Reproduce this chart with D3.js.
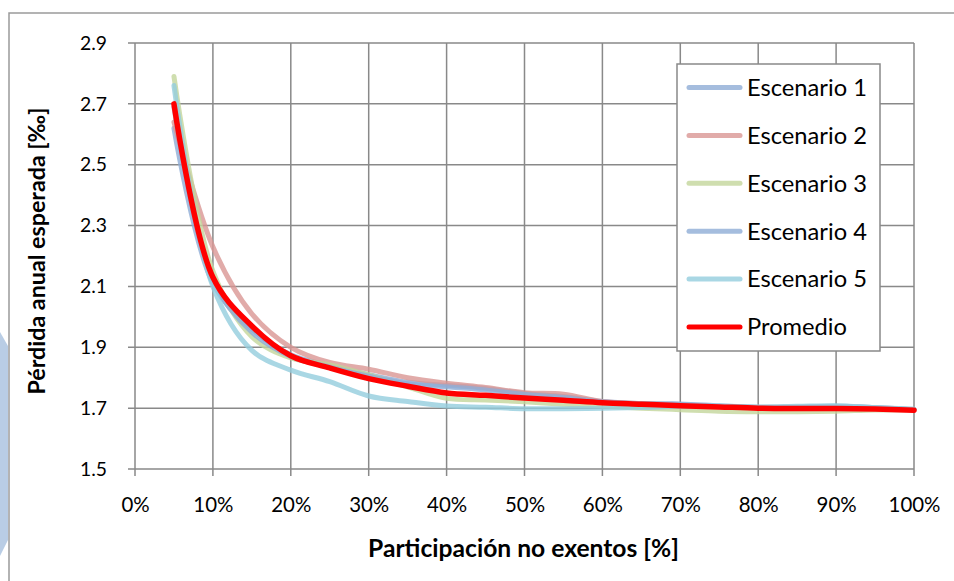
<!DOCTYPE html>
<html>
<head>
<meta charset="utf-8">
<script src="https://cdn.jsdelivr.net/npm/d3@7"></script>
<style>
  html, body { margin: 0; padding: 0; background: #ffffff; }
  svg { display: block; }
  text { font-family: Lato, "Open Sans", "DejaVu Sans", sans-serif; fill: #000; }
</style>
</head>
<body>
<svg id="chart" width="954" height="581"></svg>
<script>
// Participation of non-exempt units (%) on the horizontal axis
const participation = [5, 10, 15, 20, 25, 30, 35, 40, 45, 50, 55, 60, 65, 70, 75, 80, 85, 90, 95, 100];

// Expected annual loss (per mille) for each scenario and their average
const escenario1 = [2.62, 2.11, 1.96, 1.875, 1.84, 1.81, 1.785, 1.775, 1.765, 1.748, 1.738, 1.722, 1.715, 1.712, 1.705, 1.702, 1.703, 1.704, 1.700, 1.695];
const escenario2 = [2.64, 2.23, 2.01, 1.90, 1.85, 1.828, 1.80, 1.782, 1.768, 1.751, 1.746, 1.722, 1.715, 1.710, 1.705, 1.702, 1.700, 1.700, 1.700, 1.695];
const escenario3 = [2.79, 2.15, 1.935, 1.865, 1.842, 1.809, 1.77, 1.732, 1.727, 1.721, 1.713, 1.707, 1.700, 1.695, 1.690, 1.688, 1.688, 1.690, 1.694, 1.695];
const escenario4 = [2.69, 2.12, 1.95, 1.87, 1.835, 1.805, 1.78, 1.77, 1.76, 1.745, 1.735, 1.72, 1.714, 1.714, 1.708, 1.703, 1.703, 1.706, 1.702, 1.695];
const escenario5 = [2.76, 2.10, 1.89, 1.825, 1.787, 1.74, 1.722, 1.707, 1.703, 1.698, 1.698, 1.700, 1.702, 1.706, 1.707, 1.704, 1.706, 1.708, 1.702, 1.697];
const promedio   = [2.70, 2.13, 1.97, 1.872, 1.832, 1.797, 1.772, 1.750, 1.742, 1.733, 1.726, 1.718, 1.713, 1.708, 1.704, 1.700, 1.699, 1.699, 1.697, 1.693];

const seriesNames = ["Escenario 1", "Escenario 2", "Escenario 3", "Escenario 4", "Escenario 5", "Promedio"];
const seriesValues = [escenario1, escenario2, escenario3, escenario4, escenario5, promedio];
const seriesColors = ["#8EADD6", "#DA9694", "#C3D69B", "#8EADD6", "#93CDDD", "#FF0000"];

const xTicks = [0, 10, 20, 30, 40, 50, 60, 70, 80, 90, 100];
const yTicks = [1.5, 1.7, 1.9, 2.1, 2.3, 2.5, 2.7, 2.9];

const xTitle = "Participación no exentos [%]";
const yTitle = "Pérdida anual esperada [‰]";

const svg = d3.select("#chart");
const gridColor = "#898989";

// decorative shape at the left page margin
svg.append("path")
  .attr("d", "M0,332 L8,346 L8,540 L0,556 Z")
  .attr("fill", "#B9CDE5");

// chart frame (top and left edges visible)
svg.append("path")
  .attr("d", "M9,581 L9,13 L954,13")
  .attr("fill", "none")
  .attr("stroke", "#9a9a9a")
  .attr("stroke-width", 1.5);

const plot = { left: 135, right: 914, top: 43, bottom: 469 };
const x = d3.scaleLinear().domain([0, 100]).range([plot.left, plot.right]);
const y = d3.scaleLinear().domain([1.5, 2.9]).range([plot.bottom, plot.top]);

// size a group of labels so a reference string reaches a given width
function fitSize(sample, weight, target) {
  const t = svg.append("text").attr("font-size", 20).attr("font-weight", weight).text(sample);
  const w = t.node().getComputedTextLength();
  t.remove();
  return 20 * target / w;
}
const yTickSize = fitSize("2.9", "normal", 27);
const xTickSize = fitSize("100%", "normal", 52);
const legendSize = fitSize("Escenario 1", "normal", 120);
const xTitleSize = fitSize(xTitle, "bold", 311);
const yTitleSize = fitSize(yTitle, "bold", 287);

// gridlines
const grid = svg.append("g");
grid.selectAll("line.h").data(yTicks).join("line")
  .attr("x1", plot.left - 7).attr("x2", plot.right)
  .attr("y1", d => y(d)).attr("y2", d => y(d))
  .attr("stroke", gridColor).attr("stroke-width", 1.5);
grid.selectAll("line.v").data(xTicks).join("line")
  .attr("x1", d => x(d)).attr("x2", d => x(d))
  .attr("y1", plot.top).attr("y2", plot.bottom + 7)
  .attr("stroke", gridColor).attr("stroke-width", 1.5);

// axes with labels
const yAxis = d3.axisLeft(y).tickValues(yTicks).tickFormat(d3.format(".1f")).tickSize(0).tickPadding(28);
const gy = svg.append("g").attr("transform", `translate(${plot.left},0)`).call(yAxis);
gy.select(".domain").remove();
gy.selectAll("text").attr("font-size", yTickSize).attr("font-family", null).attr("fill", "#000");

const xAxis = d3.axisBottom(x).tickValues(xTicks).tickFormat(d => d + "%").tickSize(0).tickPadding(0);
const gx = svg.append("g").attr("transform", `translate(0,${plot.bottom})`).call(xAxis);
gx.select(".domain").remove();
gx.selectAll("text").attr("font-size", xTickSize).attr("font-family", null).attr("fill", "#000")
  .attr("y", 36).attr("dy", "0.35em");

// axis titles
svg.append("text")
  .attr("x", (plot.left + plot.right) / 2 - 1).attr("y", 548).attr("dy", "0.35em")
  .attr("text-anchor", "middle").attr("font-weight", "bold").attr("font-size", xTitleSize)
  .text(xTitle);
svg.append("text")
  .attr("transform", "translate(37,251) rotate(-90)")
  .attr("dy", "0.35em")
  .attr("text-anchor", "middle").attr("font-weight", "bold").attr("font-size", yTitleSize)
  .text(yTitle);

// series lines
const line = d3.line()
  .x((d, i) => x(participation[i]))
  .y(d => y(d))
  .curve(d3.curveCatmullRom.alpha(0.5));

const lines = svg.append("g");
seriesValues.forEach((vals, k) => {
  const isAvg = k === seriesValues.length - 1;
  lines.append("path")
    .attr("d", line(vals))
    .attr("fill", "none")
    .attr("stroke", seriesColors[k])
    .attr("stroke-opacity", isAvg ? 1 : 0.8)
    .attr("stroke-width", isAvg ? 5.5 : 5)
    .attr("stroke-linecap", "round")
    .attr("stroke-linejoin", "round");
});

// legend
const legend = svg.append("g");
legend.append("rect")
  .attr("x", 677).attr("y", 64).attr("width", 203).attr("height", 287)
  .attr("fill", "#fff").attr("stroke", gridColor).attr("stroke-width", 1.5);
const entry = legend.selectAll("g.entry").data(seriesNames).join("g")
  .attr("transform", (d, i) => `translate(0,${87.5 + i * 47.9})`);
entry.append("line")
  .attr("x1", 689).attr("x2", 740).attr("y1", 0).attr("y2", 0)
  .attr("stroke", (d, i) => seriesColors[i])
  .attr("stroke-opacity", (d, i) => i === seriesNames.length - 1 ? 1 : 0.8)
  .attr("stroke-width", 5).attr("stroke-linecap", "round");
entry.append("text")
  .attr("x", 747).attr("y", 0).attr("dy", "0.35em")
  .attr("font-size", legendSize)
  .text(d => d);
</script>
</body>
</html>
